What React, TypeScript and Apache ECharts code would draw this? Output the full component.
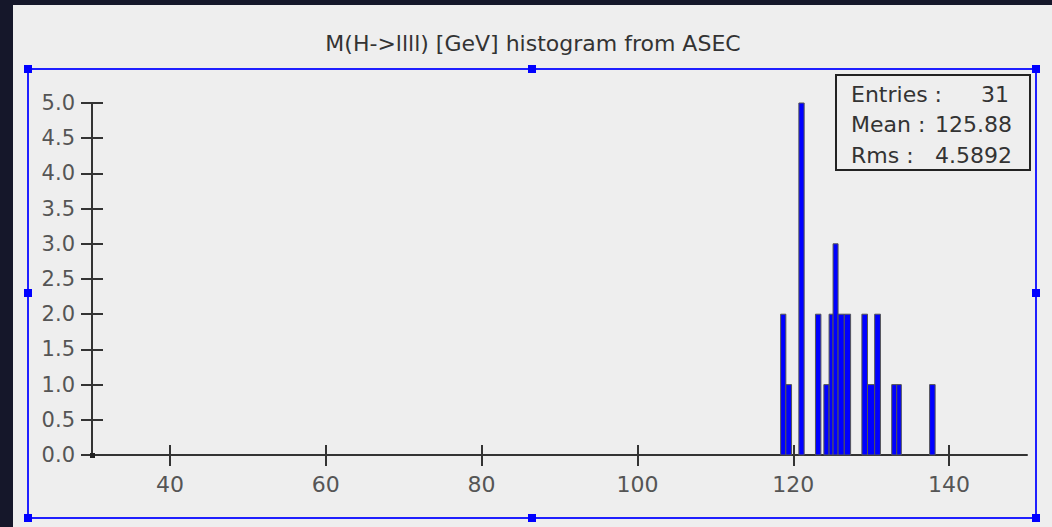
import React, { useEffect, useRef } from "react";
import * as echarts from "echarts";

// Histogram bins (GeV) and their entry counts
const binStart = [118.38, 119.05, 120.72, 122.85, 123.93, 124.6, 125.11, 125.75, 126.55, 128.81, 129.53, 130.45, 132.64, 133.28, 137.5];
const binEnd = [119.05, 119.78, 121.4, 123.55, 124.6, 125.11, 125.75, 126.55, 127.36, 129.53, 130.45, 131.19, 133.28, 133.87, 138.21];
const counts = [2, 1, 5, 2, 1, 2, 3, 2, 2, 2, 1, 2, 1, 1, 1];

const xTicks = [40, 60, 80, 100, 120, 140];
const titleText = "M(H->llll) [GeV] histogram from ASEC";
const statLabels = ["Entries :", "Mean :", "Rms :"];
const statValues = ["31", "125.88", "4.5892"];

const FONT = "DejaVu Sans";

export default function App() {
  const ref = useRef<HTMLDivElement>(null);
  useEffect(() => {
    if (!ref.current) return;
    const chart = echarts.init(ref.current, null, { renderer: "svg" });
    const data = binStart.map((s, i) => [s, binEnd[i], counts[i]]);

    const axisLineStyle = { color: "#333", width: 2 };
    const tickStyle = { color: "#333", width: 2 };
    const labelStyle = { color: "#555", fontFamily: FONT, fontSize: 21 };

    const handles: any[] = [];
    const hx = [28, 532, 1036];
    const hy = [69, 293, 518];
    hx.forEach((x, i) =>
      hy.forEach((y, j) => {
        if (i === 1 && j === 1) return;
        handles.push({
          type: "rect",
          shape: { x: x - 4, y: y - 4, width: 8, height: 8 },
          style: { fill: "#0000ff" },
          z: 10,
        });
      })
    );

    const statTexts: any[] = [];
    const statY = [94, 124, 155];
    statLabels.forEach((l, i) => {
      statTexts.push({
        type: "text",
        x: 851,
        y: statY[i],
        style: { text: l, fill: "#333", font: `22px "${FONT}"`, textAlign: "left", textVerticalAlign: "middle" },
        z: 10,
      });
      statTexts.push({
        type: "text",
        x: i === 0 ? 1009 : 1012,
        y: statY[i],
        style: { text: statValues[i], fill: "#333", font: `22px "${FONT}"`, textAlign: "right", textVerticalAlign: "middle" },
        z: 10,
      });
    });

    chart.setOption({
      animation: false,
      backgroundColor: "#15172a",
      grid: { left: 92, right: 25, top: 103, bottom: 72, containLabel: false },
      xAxis: [
        {
          type: "value",
          min: 30,
          max: 150,
          position: "bottom",
          axisLine: { show: true, onZero: false, lineStyle: axisLineStyle },
          axisTick: { show: true, length: 11, customValues: xTicks, lineStyle: tickStyle },
          axisLabel: { show: true, customValues: xTicks, margin: 18, ...labelStyle, fontSize: 22 },
          splitLine: { show: false },
        },
        {
          type: "value",
          min: 30,
          max: 150,
          position: "bottom",
          axisLine: { show: false, onZero: false },
          axisTick: { show: true, inside: true, length: 10, customValues: xTicks, lineStyle: tickStyle },
          axisLabel: { show: false },
          splitLine: { show: false },
        },
      ],
      yAxis: [
        {
          type: "value",
          min: 0,
          max: 5,
          interval: 0.5,
          position: "left",
          axisLine: { show: true, onZero: false, lineStyle: axisLineStyle },
          axisTick: { show: true, length: 11, lineStyle: tickStyle },
          axisLabel: { show: true, margin: 17, formatter: (v: number) => v.toFixed(1), ...labelStyle },
          splitLine: { show: false },
        },
        {
          type: "value",
          min: 0,
          max: 5,
          interval: 0.5,
          position: "left",
          axisLine: { show: false, onZero: false },
          axisTick: { show: true, inside: true, length: 11, lineStyle: tickStyle },
          axisLabel: { show: false },
          splitLine: { show: false },
        },
      ],
      graphic: [
        {
          type: "rect",
          shape: { x: 13, y: 5, width: 1039, height: 522 },
          style: { fill: "#eeeeee" },
          z: -10,
          silent: true,
        },
        {
          type: "rect",
          shape: { x: 28, y: 69, width: 1008, height: 449 },
          style: { fill: "none", stroke: "#1f1fff", lineWidth: 2 },
          z: 9,
        },
        ...handles,
        {
          type: "text",
          x: 533,
          y: 43,
          style: { text: titleText, fill: "#333", font: `22px "${FONT}"`, textAlign: "center", textVerticalAlign: "middle" },
          z: 10,
        },
        {
          type: "rect",
          shape: { x: 836, y: 75, width: 194, height: 95 },
          style: { fill: "#eeeeee", stroke: "#222", lineWidth: 2 },
          z: 9,
        },
        ...statTexts,
        {
          type: "rect",
          shape: { x: 90, y: 453, width: 5, height: 5 },
          style: { fill: "#222" },
          z: 10,
        },
      ],
      series: [
        {
          type: "custom",
          xAxisIndex: 0,
          yAxisIndex: 0,
          data,
          encode: { x: [0, 1], y: 2 },
          renderItem: (params: any, api: any) => {
            const p0 = api.coord([api.value(0), 0]);
            const p1 = api.coord([api.value(1), api.value(2)]);
            return {
              type: "rect",
              shape: { x: p0[0], y: p1[1], width: p1[0] - p0[0], height: p0[1] - p1[1] },
              style: { fill: "#0000ff", stroke: "#555", lineWidth: 1 },
            };
          },
        },
      ],
    });
    return () => chart.dispose();
  }, []);
  return (
    <div
      ref={ref}
      style={{ position: "fixed", left: 0, top: 0, width: 1052, height: 527 }}
    />
  );
}
